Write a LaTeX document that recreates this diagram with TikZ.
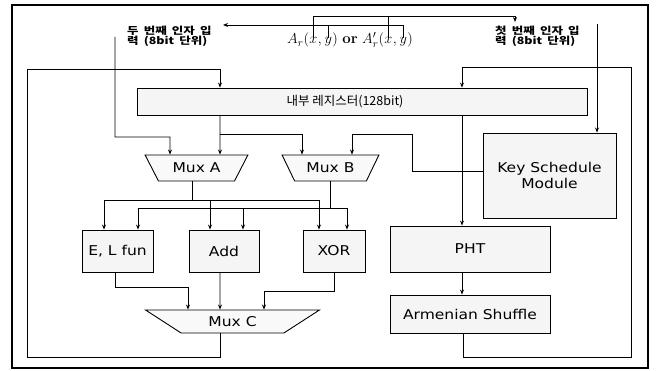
\documentclass[tikz,border=0pt]{standalone}
\usepackage{fontspec}
\setsansfont{DejaVu Sans}[FakeStretch=1.15]
\newfontfamily\kr{Noto Sans CJK KR}
\newfontfamily\krw{Noto Sans CJK KR}[FakeStretch=1.25, WordSpace=1.8]
\usetikzlibrary{arrows.meta,shapes.geometric}
\tikzset{
  box/.style={draw, line width=0.9pt, fill=gray!8, inner sep=0pt, align=center,
    font=\sffamily\fontsize{13.5}{15.5}\selectfont},
  mux/.style={draw, line width=0.9pt, fill=gray!5, trapezium, shape border rotate=180,
    trapezium stretches=true, inner sep=0pt, font=\sffamily\fontsize{13.5}{15.5}\selectfont},
  ln/.style={line width=0.9pt},
  arr/.style={line width=0.9pt, -{Stealth[length=5pt,width=4pt]}},
  mt/.style={inner sep=0pt, anchor=base west, font=\fontsize{15}{18}\selectfont},
  lab/.style={inner sep=0pt, anchor=north west, align=left, font=\krw\bfseries\fontsize{10}{9.5}\selectfont},
  frame/.style={line width=1.4pt}
}
\begin{document}
\begin{tikzpicture}[x=1pt,y=-1pt]
\useasboundingbox (0,0) rectangle (657,371);
\draw[frame] (12,5) rectangle (648,368);

% input formula
\node[mt] (m1) at (287,44) {$A_r($};
\node[mt] (mx1) at (m1.base east) {$x$};
\node[mt] (mc1) at (mx1.base east) {$,\,$};
\node[mt] (my1) at (mc1.base east) {$y$};
\node[mt] (m2) at (my1.base east) {$)$ \textbf{or} $A'_r($};
\node[mt] (mx2) at (m2.base east) {$x$};
\node[mt] (mc2) at (mx2.base east) {$,\,$};
\node[mt] (my2) at (mc2.base east) {$y$};
\node[mt] (m3) at (my2.base east) {$)$};

% input labels
\node[lab] (llab) at (127,26) {두 번째 인자 입\\력 (8bit 단위)};
\node[lab] (rlab) at (495,26) {첫 번째 인자 입\\력 (8bit 단위)};
\coordinate (lin) at (223,25);
\coordinate (lout) at (115,37);
\coordinate (rin) at (515,22);
\coordinate (rout) at (597,24);
\coordinate (rbar) at (0,16);

% register
\node[box, minimum width=450pt, minimum height=27pt, font=\kr\fontsize{12.5}{14}\selectfont]
  (reg) at (362,101.5) {\hspace*{-34pt}내부 레지스터(128bit)};

% muxes
\node[mux, trapezium angle=50, minimum width=103pt, minimum height=26pt] (muxA) at (196.5,168) {Mux A};
\node[mux, trapezium angle=50, minimum width=97pt, minimum height=26pt] (muxB) at (330.5,168) {Mux B};
\node[mux, trapezium angle=31.5, minimum width=175pt, minimum height=23pt] (muxC) at (232.5,321.5) {Mux C};

% function boxes
\node[box, minimum width=71pt, minimum height=42pt] (elf) at (117.5,251) {E, L fun};
\node[box, minimum width=70pt, minimum height=42pt] (add) at (224,251) {Add};
\node[box, minimum width=62pt, minimum height=42pt] (xor) at (334,251) {XOR};
\node[box, minimum width=160pt, minimum height=46pt] (pht) at (470,249) {PHT};
\node[box, minimum width=160pt, minimum height=38pt] (arm) at (470,314) {Armenian Shuffle};
\node[box, minimum width=133pt, minimum height=85pt] (ksm) at (549.5,175.5) {Key Schedule\\Module};

% formula brackets
\draw[arr] (mx1.north) |- (rin |- rbar) -- (rin);
\draw[ln] (mx2.north) -- (mx2.north |- rbar);
\draw[arr] (my2.north) |- (lin);
\draw[ln] (my1.north) -- (my1.north |- lin);

% label outputs
\draw[arr] (lout) |- (170,137) -- ([xshift=-26.5pt]muxA.north);
\draw[arr] (rout) -- ([xshift=47.5pt]ksm.north);

% register outputs
\draw[arr] ([xshift=-142pt]reg.south) -- ([xshift=23.5pt]muxA.north);
\draw[arr] ([xshift=-142pt]reg.south) ++(0,19) -| ([xshift=-28.5pt]muxB.north);
\draw[arr] ([xshift=100pt]reg.south) -- ([xshift=-8pt]pht.north);

% key schedule to mux B
\draw[arr] ([yshift=4pt]ksm.west) -| (412,134) -| ([xshift=21.5pt]muxB.north);

% mux A bus
\draw[ln] ([xshift=-4.5pt]muxA.south) -- ++(0,19) coordinate (busA);
\draw[arr] (busA) -| ([xshift=-13.5pt]elf.north);
\draw[arr] (busA) -| ([xshift=-14pt]add.north);
\draw[arr] (busA) -| ([xshift=-15pt]xor.north);

% mux B bus
\draw[ln] (muxB.south) -- ++(0,27) coordinate (busB);
\draw[arr] (busB) -| ([xshift=20.5pt]elf.north);
\draw[arr] (busB) -| ([xshift=19pt]add.north);
\draw[arr] (busB) -| ([xshift=13pt]xor.north);

% into mux C
\draw[arr] ([xshift=-2.5pt]elf.south) -- ++(0,15) -| ([xshift=-44.5pt]muxC.north);
\draw[arr] ([xshift=-4pt]add.south) -- ([xshift=-12.5pt]muxC.north);
\draw[arr] (xor.south) -- ++(0,19) -| ([xshift=31.5pt]muxC.north);

% PHT to shuffle
\draw[arr] ([xshift=-8pt]pht.south) -- ([xshift=-8pt]arm.north);

% feedback loops
\draw[arr] ([xshift=-12.5pt]muxC.south) |- (27,357) |- (220,69) -- ([xshift=-142pt]reg.north);
\draw[arr] ([xshift=-7pt]arm.south) |- (631,357) |- (462,67) -- ([xshift=100pt]reg.north);
\end{tikzpicture}
\end{document}
